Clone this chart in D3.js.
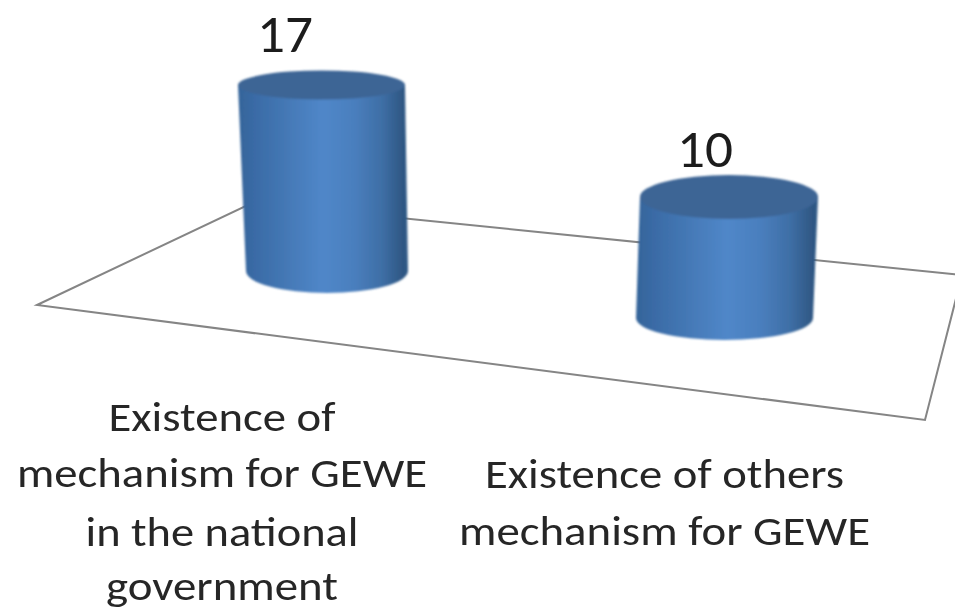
<!DOCTYPE html>
<html><head><meta charset="utf-8">
<script src="https://cdn.jsdelivr.net/npm/d3@7/dist/d3.min.js"></script>
<style>html,body{margin:0;padding:0;background:#fff}svg{display:block}</style></head>
<body><svg id="c" width="955" height="611"></svg>
<script>
const categories = [["Existence of","mechanism for GEWE","in the national","government"],["Existence of others","mechanism for GEWE"]];
const values = [17,10];

const svg = d3.select("#c");
const font = "Carlito, 'Open Sans', 'Noto Sans', sans-serif";
const defs = svg.append("defs");
const g = defs.append("linearGradient").attr("id","body").attr("x1",0).attr("x2",1).attr("y1",0).attr("y2",0);
[[0,"#356499"],[0.1,"#3a6ba6"],[0.28,"#4478b5"],[0.5,"#5087c9"],[0.68,"#4a7fbe"],[0.85,"#3e6ea5"],[0.97,"#2f5783"],[1,"#2f5987"]]
  .forEach(s=>g.append("stop").attr("offset",s[0]).attr("stop-color",s[1]));
const mk=(id,s)=>defs.append("filter").attr("id",id).attr("x","-5%").attr("y","-10%").attr("width","110%").attr("height","120%")
  .append("feGaussianBlur").attr("stdDeviation",s);
mk("soft",0.8); mk("line",0.5); mk("txt",0.6);

// floor
const floorPts = [[37,305],[252,203],[962,275],[925,420]];
svg.append("path").attr("d",d3.line().curve(d3.curveLinearClosed)(floorPts))
  .attr("fill","none").attr("stroke","#858585").attr("stroke-width",2).attr("filter","url(#line)");

// column geometry
const h = d3.scaleLinear().domain([10,17]).range([121,186]);
const xPos = d3.scalePoint().domain([0,1]).range([327,724.5]);
const baseY = d3.scalePoint().domain([0,1]).range([271,318]);
const topShift=[-5.5,4.5], rxTop=[83.5,89], rxBot=[81,88.5], ryTop=[14.5,22], ryBot=[22,22];

const cols = svg.append("g").attr("filter","url(#soft)");
values.forEach((v,i)=>{
  const bx=xPos(i), by=baseY(i), ty=by-h(v), tx=bx+topShift[i];
  const d=`M${tx-rxTop[i]},${ty} L${bx-rxBot[i]},${by} A${rxBot[i]},${ryBot[i]} 0 0 0 ${bx+rxBot[i]},${by} L${tx+rxTop[i]},${ty} Z`;
  cols.append("path").attr("d",d).attr("fill","url(#body)");
  cols.append("ellipse").attr("cx",tx).attr("cy",ty).attr("rx",rxTop[i]).attr("ry",ryTop[i]).attr("fill","#3c6595");
});

const numG = svg.append("g").attr("filter","url(#txt)");
const numX=[285,705], numY=[52,167];
values.forEach((v,i)=>{
  numG.append("text").attr("x",numX[i]).attr("y",numY[i]).attr("text-anchor","middle")
    .attr("font-family",font).attr("font-size",54).attr("fill","#1c1c1c")
    .attr("textLength",56).attr("lengthAdjust","spacingAndGlyphs").text(v);
});

const labelG = svg.append("g").attr("filter","url(#txt)");
const labelX=[222,664.5];
const labelY=[[431,487,546,600],[488,545]];
const labelW=[[227,410,273,232],[359,411]];
categories.forEach((ls,i)=>{
  ls.forEach((t,j)=>{
    labelG.append("text").attr("x",labelX[i]).attr("y",labelY[i][j]).attr("text-anchor","middle")
      .attr("font-family",font).attr("font-size",42).attr("fill","#262626")
      .attr("textLength",labelW[i][j]).attr("lengthAdjust","spacingAndGlyphs").text(t);
  });
});
</script></body></html>
